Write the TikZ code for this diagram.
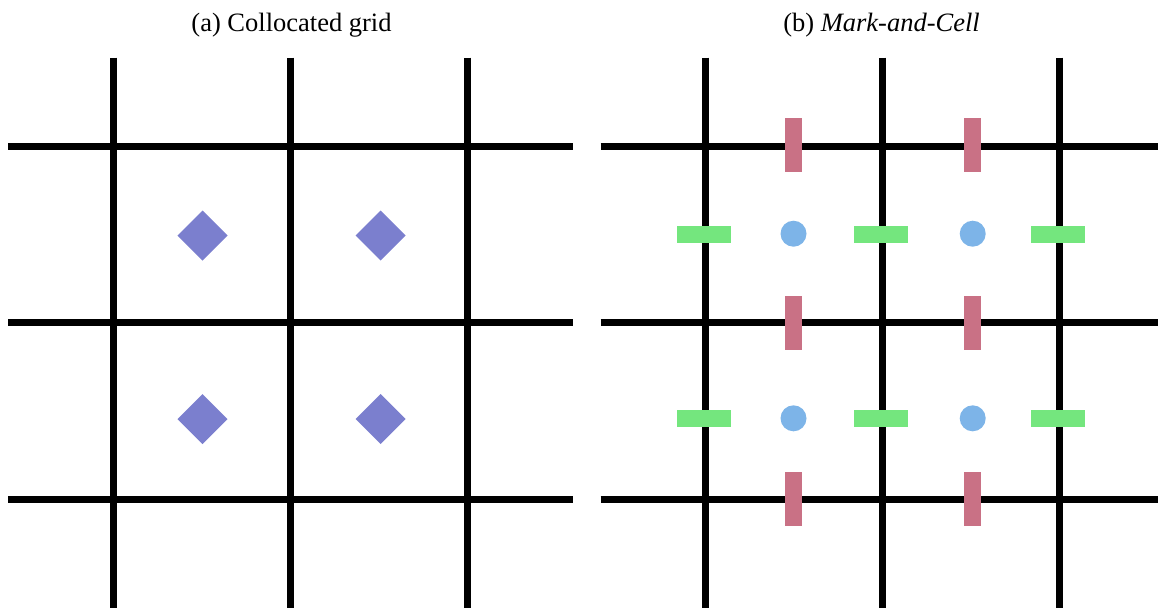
\documentclass[tikz,border=0pt]{standalone}
\usepackage{fontspec}
\setmainfont{Liberation Serif}
\newfontfamily\titlefont{Liberation Serif}
\definecolor{diamondblue}{RGB}{123,127,206}
\definecolor{velred}{RGB}{201,113,133}
\definecolor{velgreen}{RGB}{116,230,126}
\definecolor{presblue}{RGB}{125,180,232}
\tikzset{
  gridline/.style={line width=7pt, black},
  colloc/.style={rectangle, rotate=45, minimum size=35.36pt, inner sep=0pt, fill=diamondblue},
  pres/.style={circle, minimum size=26pt, inner sep=0pt, fill=presblue},
  uvel/.style={rectangle, minimum width=54pt, minimum height=17pt, inner sep=0pt, fill=velgreen},
  vvel/.style={rectangle, minimum width=17pt, minimum height=54pt, inner sep=0pt, fill=velred},
  paneltitle/.style={font=\titlefont\fontsize{26.5}{32}\selectfont, anchor=base, inner sep=0pt}
}
\begin{document}
\begin{tikzpicture}[x=1pt, y=-1pt]
\useasboundingbox (0,0) rectangle (1158,608);

% panel titles
\node[paneltitle] (ta) at (291.5,31) {(a) Collocated grid};
\node[paneltitle] (tb) at (881.5,31) {(b) \textit{Mark-and-Cell}};

% left panel: grid lines
\foreach \x in {113,290,467} \draw[gridline] (\x,57.7) -- (\x,608);
\foreach \y in {146,322.5,499} \draw[gridline] (8,\y) -- (573.3,\y);

% collocated unknowns
\node[colloc] (c11) at (202.5,235.5) {};
\node[colloc] (c12) at (380.7,235.5) {};
\node[colloc] (c21) at (202.5,419) {};
\node[colloc] (c22) at (380.7,419) {};

% right panel: grid lines
\foreach \x in {705.5,882,1059.5} \draw[gridline] (\x,57.7) -- (\x,608);
\foreach \y in {146,322.5,499} \draw[gridline] (600.7,\y) -- (1158,\y);

% vertical velocity components on horizontal faces
\node[vvel] (v11) at (793.5,145) {};
\node[vvel] (v12) at (972.5,145) {};
\node[vvel] (v21) at (793.5,322.5) {};
\node[vvel] (v22) at (972.5,322.5) {};
\node[vvel] (v31) at (793.5,498.8) {};
\node[vvel] (v32) at (972.5,498.8) {};

% horizontal velocity components on vertical faces
\node[uvel] (u11) at (704,234.3) {};
\node[uvel] (u12) at (881,234.3) {};
\node[uvel] (u13) at (1058,234.3) {};
\node[uvel] (u21) at (704,418.3) {};
\node[uvel] (u22) at (881,418.3) {};
\node[uvel] (u23) at (1058,418.3) {};

% pressure at cell centres
\node[pres] (p11) at (793.5,233.7) {};
\node[pres] (p12) at (972.7,233.7) {};
\node[pres] (p21) at (793.5,418.3) {};
\node[pres] (p22) at (972.7,418.3) {};
\end{tikzpicture}
\end{document}
